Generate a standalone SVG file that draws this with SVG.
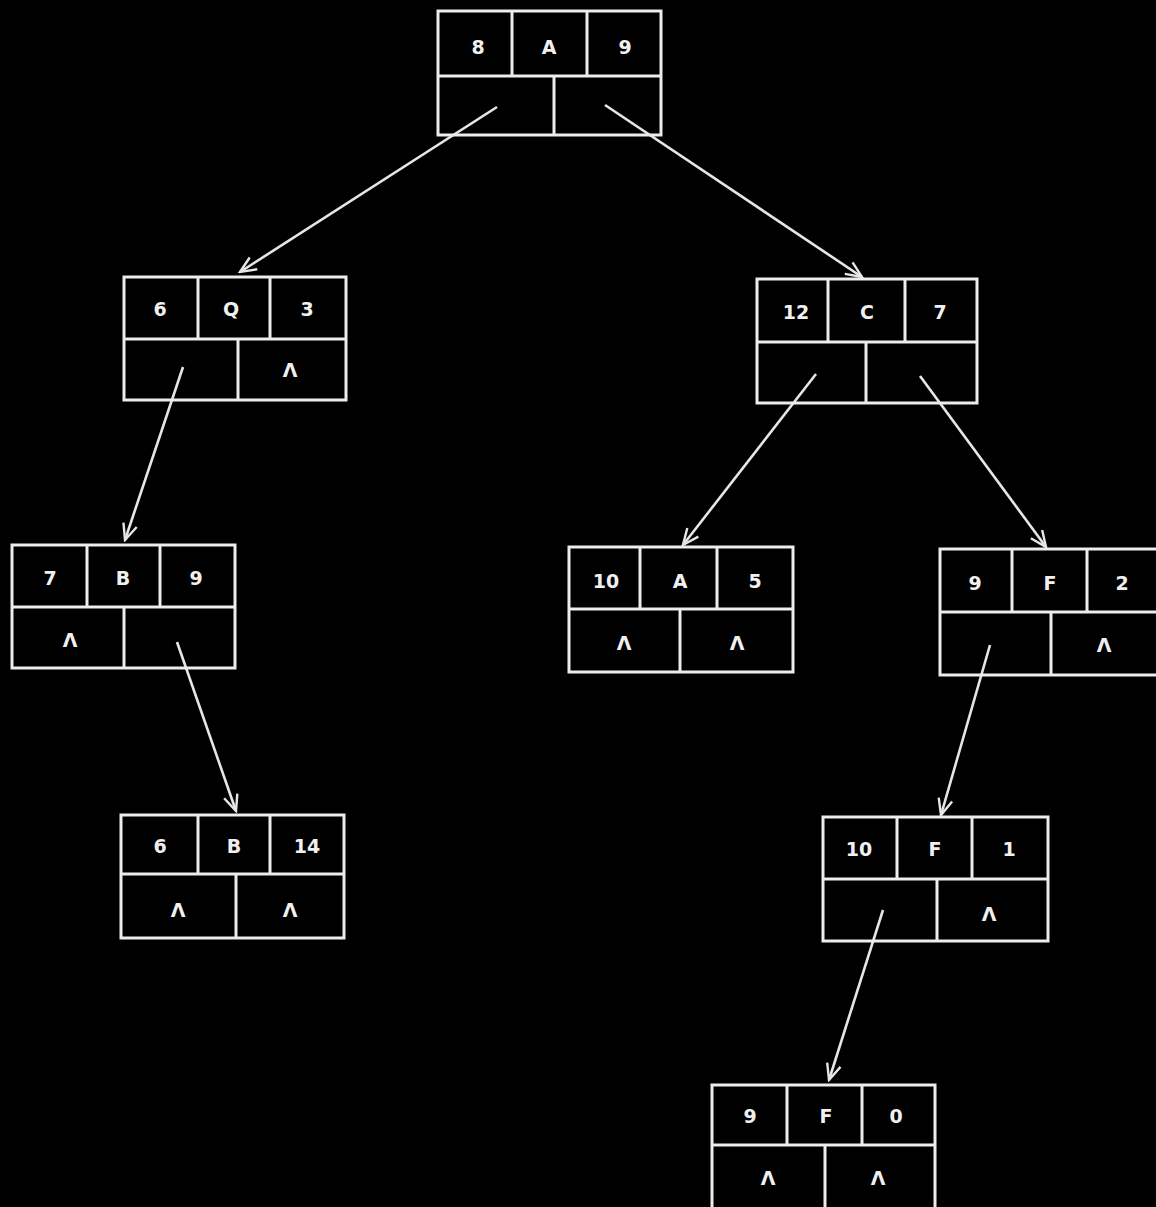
<svg xmlns="http://www.w3.org/2000/svg" width="1156" height="1207" viewBox="0 0 1156 1207">
<style>
.box{fill:none;stroke:#ececec;stroke-width:3}
.t{font-family:"DejaVu Sans","Liberation Sans",sans-serif;font-size:19px;font-weight:bold;fill:#f0f0f0;text-anchor:middle;dominant-baseline:central}
.c{stroke:#e6e6e6;stroke-width:2.6;fill:none}
</style>
<defs>
<marker id="ah" viewBox="0 0 20 20" refX="18" refY="10" markerWidth="20" markerHeight="20" markerUnits="userSpaceOnUse" orient="auto">
<polyline points="2,3 18,10 2,17" fill="none" stroke="#e6e6e6" stroke-width="2.4"/>
</marker>
</defs>
<rect width="1156" height="1207" fill="#000"/>
<g id="connectors">
<line class="c" x1="497" y1="107" x2="240" y2="272" marker-end="url(#ah)"/>
<line class="c" x1="605" y1="105" x2="862" y2="277" marker-end="url(#ah)"/>
<line class="c" x1="183" y1="367" x2="125" y2="540" marker-end="url(#ah)"/>
<line class="c" x1="816" y1="374" x2="683" y2="545" marker-end="url(#ah)"/>
<line class="c" x1="920" y1="376" x2="1046" y2="547" marker-end="url(#ah)"/>
<line class="c" x1="177" y1="642" x2="236" y2="811" marker-end="url(#ah)"/>
<line class="c" x1="990" y1="645" x2="941" y2="815" marker-end="url(#ah)"/>
<line class="c" x1="883" y1="910" x2="829" y2="1080" marker-end="url(#ah)"/>
</g>
<g id="n8A9">
<rect class="box" x="438" y="11" width="223" height="124"/>
<path class="box" d="M438 76H661M512 11V76M587 11V76M554 76V135"/>
<text class="t" x="478" y="47">8</text><text class="t" x="549" y="47">A</text><text class="t" x="625" y="47">9</text>
</g>
<g id="n6Q3">
<rect class="box" x="124" y="277" width="222" height="123"/>
<path class="box" d="M124 339H346M198 277V339M270 277V339M238 339V400"/>
<text class="t" x="160" y="309">6</text><text class="t" x="231" y="309">Q</text><text class="t" x="307" y="309">3</text>
<text class="t" x="290" y="370">Λ</text>
</g>
<g id="n12C7">
<rect class="box" x="757" y="279" width="220" height="124"/>
<path class="box" d="M757 342H977M828 279V342M905 279V342M866 342V403"/>
<text class="t" x="796" y="312">12</text><text class="t" x="867" y="312">C</text><text class="t" x="940" y="312">7</text>
</g>
<g id="n7B9">
<rect class="box" x="12" y="545" width="223" height="123"/>
<path class="box" d="M12 607H235M87 545V607M160 545V607M124 607V668"/>
<text class="t" x="50" y="578">7</text><text class="t" x="123" y="578">B</text><text class="t" x="196" y="578">9</text>
<text class="t" x="70" y="640">Λ</text>
</g>
<g id="n10A5">
<rect class="box" x="569" y="547" width="224" height="125"/>
<path class="box" d="M569 609H793M640 547V609M717 547V609M680 609V672"/>
<text class="t" x="606" y="581">10</text><text class="t" x="680" y="581">A</text><text class="t" x="755" y="581">5</text>
<text class="t" x="624" y="643">Λ</text><text class="t" x="737" y="643">Λ</text>
</g>
<g id="n9F2">
<rect class="box" x="940" y="549" width="222" height="126"/>
<path class="box" d="M940 612H1162M1012 549V612M1087 549V612M1051 612V675"/>
<text class="t" x="975" y="583">9</text><text class="t" x="1050" y="583">F</text><text class="t" x="1122" y="583">2</text>
<text class="t" x="1104" y="645">Λ</text>
</g>
<g id="n6B14">
<rect class="box" x="121" y="815" width="223" height="123"/>
<path class="box" d="M121 874H344M198 815V874M270 815V874M236 874V938"/>
<text class="t" x="160" y="846">6</text><text class="t" x="234" y="846">B</text><text class="t" x="307" y="846">14</text>
<text class="t" x="178" y="910">Λ</text><text class="t" x="290" y="910">Λ</text>
</g>
<g id="n10F1">
<rect class="box" x="823" y="817" width="225" height="124"/>
<path class="box" d="M823 879H1048M897 817V879M972 817V879M937 879V941"/>
<text class="t" x="859" y="849">10</text><text class="t" x="935" y="849">F</text><text class="t" x="1009" y="849">1</text>
<text class="t" x="989" y="914">Λ</text>
</g>
<g id="n9F0">
<rect class="box" x="712" y="1085" width="223" height="126"/>
<path class="box" d="M712 1145H935M787 1085V1145M862 1085V1145M825 1145V1211"/>
<text class="t" x="750" y="1116">9</text><text class="t" x="826" y="1116">F</text><text class="t" x="896" y="1116">0</text>
<text class="t" x="768" y="1178">Λ</text><text class="t" x="878" y="1178">Λ</text>
</g>
</svg>
